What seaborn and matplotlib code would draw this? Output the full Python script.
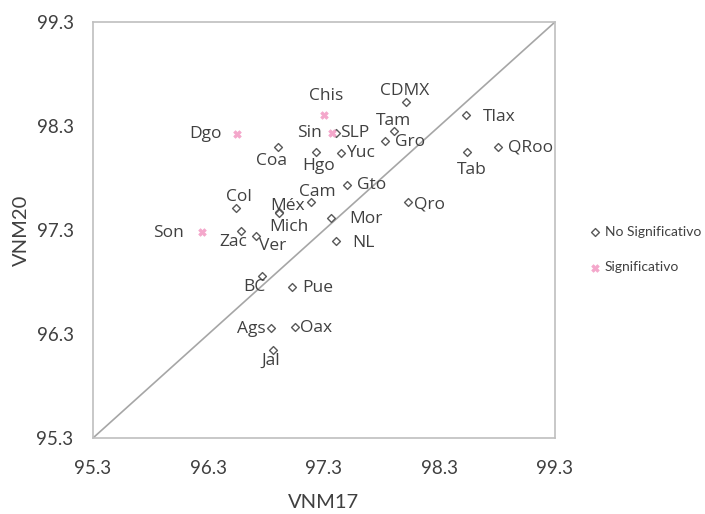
import matplotlib
matplotlib.use("Agg")
import matplotlib.pyplot as plt
import seaborn as sns
import pandas as pd

states = ["Chis", "Dgo", "Sin", "Son",
          "SLP", "Coa", "Hgo", "Yuc", "Gto", "Cam", "Col", "Méx", "Mich", "Mor",
          "Zac", "Ver", "NL", "BC", "Pue", "Ags", "Oax", "Jal",
          "CDMX", "Tlax", "Tam", "Gro", "Tab", "QRoo", "Qro"]
vnm17 = [97.30, 96.55, 97.37, 96.24,
         97.40, 96.90, 97.23, 97.45, 97.50, 97.19, 96.54, 96.91, 96.91, 97.36,
         96.58, 96.71, 97.40, 96.76, 97.02, 96.84, 97.05, 96.86,
         98.01, 98.53, 97.91, 97.83, 98.54, 98.81, 98.03]
vnm20 = [98.41, 98.22, 98.23, 97.28,
         98.23, 98.10, 98.05, 98.04, 97.73, 97.57, 97.51, 97.47, 97.46, 97.42,
         97.29, 97.24, 97.19, 96.86, 96.75, 96.36, 96.37, 96.15,
         98.53, 98.41, 98.25, 98.16, 98.05, 98.10, 97.57]
group = ["Significativo"] * 4 + ["No Significativo"] * 25
ticks = [95.3, 96.3, 97.3, 98.3, 99.3]

# label placement: (dx px, dy px (screen, down positive), ha)
label_pos = {
    "Chis": (2, -19, "center"), "Dgo": (-16, 0, "right"), "Sin": (-10, 0, "right"),
    "SLP": (5, 0, "left"), "Coa": (-6, 14, "center"), "Hgo": (3, 14, "center"),
    "Yuc": (5, 0, "left"), "Gto": (10, 0, "left"), "Cam": (6, -10, "center"),
    "Col": (3, -11, "center"), "Méx": (9, -6, "center"), "Mich": (10, 14, "center"),
    "Mor": (18, 1, "left"), "Zac": (-8, 11, "center"), "Ver": (3, 10, "left"),
    "NL": (17, 2, "left"), "Son": (-18, 1, "right"), "BC": (-7, 11, "center"),
    "Pue": (11, 1, "left"), "Ags": (-5, 1, "right"), "Oax": (5, 1, "left"),
    "Jal": (-2, 11, "center"), "CDMX": (-1, -11, "center"), "Tlax": (17, 2, "left"),
    "Tam": (-1, -10, "center"), "Gro": (10, 1, "left"), "Tab": (5, 18, "center"),
    "QRoo": (10, 1, "left"), "Qro": (6, 3, "left"),
}

df = pd.DataFrame({"VNM17": vnm17, "VNM20": vnm20, "Grupo": group, "Estado": states})

sns.set_style("white")
plt.rcParams["font.family"] = ["Open Sans", "DejaVu Sans"]

fig = plt.figure(figsize=(7.05, 5.14), dpi=100)
ax = fig.add_axes([93 / 705, 1 - 438 / 514, (555 - 93) / 705, (438 - 22) / 514])

ax.plot([95.3, 99.3], [95.3, 99.3], color="#A6A6A6", lw=1.2, zorder=1)

ns = df[df["Grupo"] == "No Significativo"]
sg = df[df["Grupo"] == "Significativo"]
sns.scatterplot(data=ns, x="VNM17", y="VNM20", ax=ax, marker="D", s=16,
                facecolor="white", edgecolor="#595959", linewidth=1.0,
                label="No Significativo", zorder=3)
sns.scatterplot(data=sg, x="VNM17", y="VNM20", ax=ax, marker="X", s=30,
                color="#F4A7CB", edgecolor="#F4A7CB", linewidth=0.5,
                label="Significativo", zorder=3)

for s, x, y in zip(states, vnm17, vnm20):
    dx, dy, ha = label_pos[s]
    ax.annotate(s, (x, y), xytext=(dx, -dy), textcoords="offset pixels",
                ha=ha, va="center", fontsize=12.5, color="#404040")

ax.set_xlim(95.3, 99.3)
ax.set_ylim(95.3, 99.3)
ax.set_xticks(ticks)
ax.set_yticks(ticks)
ax.set_xticklabels([f"{t:.1f}" for t in ticks], family=["Lato", "DejaVu Sans"], fontsize=13.5, color="#404040")
ax.set_yticklabels([f"{t:.1f}" for t in ticks], family=["Lato", "DejaVu Sans"], fontsize=13.5, color="#404040")
ax.tick_params(axis="x", length=0, pad=16)
ax.tick_params(axis="y", length=0, pad=14)
ax.set_xlabel("VNM17", fontsize=14.5, color="#404040", family=["Lato", "DejaVu Sans"], labelpad=12)
ax.set_ylabel("VNM20", fontsize=14.5, color="#404040", family=["Lato", "DejaVu Sans"], labelpad=5)
for sp in ax.spines.values():
    sp.set_color("#BFBFBF")
    sp.set_linewidth(1.2)

leg = ax.legend(loc="center left", bbox_to_anchor=((589 - 93) / 462, (438 - 249.5) / 416),
                frameon=False, labelspacing=1.7, handletextpad=0.35, handlelength=0.8,
                borderaxespad=0, borderpad=0,
                prop={"family": ["Lato", "DejaVu Sans"], "size": 10})
for t in leg.get_texts():
    t.set_color("#404040")

fig.savefig("out.png", dpi=100)
